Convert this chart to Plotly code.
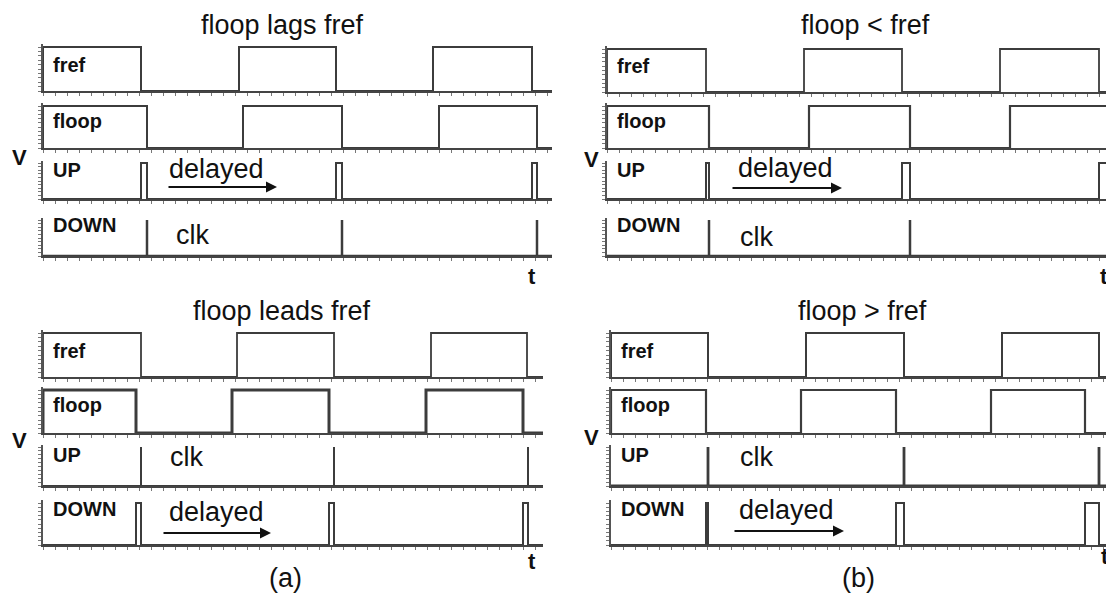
import plotly.graph_objects as go

# browser window and the default 8px page margin around the figure
WIN_W, WIN_H = 1114, 604
OFF = 8
W, H = WIN_W - OFF, WIN_H - 2 * OFF

# edge times of every digital trace (time units ~ px from the left edge of its panel)
# fref / floop start high, UP / DOWN start low
LAGS_SPAN = 509
LAGS_FREF = [98, 196, 293, 390, 489]
LAGS_FLOOP = [104, 200, 299, 396, 494]
LAGS_UP = [98, 104, 293, 299, 489, 494]
LAGS_DOWN = [104, 104, 299, 299, 494, 494]

SLOW_SPAN = 506
SLOW_FREF = [99, 197, 295, 393, 492]
SLOW_FLOOP = [102, 202, 303, 403, 503]
SLOW_UP = [99, 102, 295, 303, 492, 503]
SLOW_DOWN = [102, 102, 303, 303, 503, 503]

LEADS_SPAN = 500
LEADS_FREF = [98, 194, 291, 388, 484]
LEADS_FLOOP = [93, 189, 286, 383, 480]
LEADS_UP = [98, 98, 291, 291, 485, 485]
LEADS_DOWN = [93, 98, 286, 291, 480, 485]

FAST_SPAN = 503
FAST_FREF = [97, 195, 293, 391, 488]
FAST_FLOOP = [95, 190, 285, 380, 474]
FAST_UP = [97, 97, 293, 293, 488, 488]
FAST_DOWN = [95, 97, 285, 293, 474, 488]

SIGNAL_NAMES = ["fref", "floop", "UP", "DOWN"]
START_LEVEL = [1, 1, 0, 0]

TITLES = ["floop lags fref", "floop < fref", "floop leads fref", "floop > fref"]

top_rows = [(47, 91), (106, 148), (163, 199), (220, 256)]
bot_rows = [(333, 377), (390, 433), (447, 486), (503, 545)]

panels = [
    dict(span=LAGS_SPAN, sig=[LAGS_FREF, LAGS_FLOOP, LAGS_UP, LAGS_DOWN],
         x0=43, rows=top_rows, widths=[2, 2, 2, 2.5]),
    dict(span=SLOW_SPAN, sig=[SLOW_FREF, SLOW_FLOOP, SLOW_UP, SLOW_DOWN],
         x0=607, rows=[(49, 92)] + top_rows[1:], widths=[1.8, 2.2, 2, 2.5]),
    dict(span=LEADS_SPAN, sig=[LEADS_FREF, LEADS_FLOOP, LEADS_UP, LEADS_DOWN],
         x0=43, rows=bot_rows, widths=[1.8, 3, 2, 2]),
    dict(span=FAST_SPAN, sig=[FAST_FREF, FAST_FLOOP, FAST_UP, FAST_DOWN],
         x0=611, rows=bot_rows, widths=[2, 2.2, 2.8, 2]),
]


def steps(edges, span, start):
    xs, ys = [], []
    if start == 1:
        xs.append(0); ys.append(0)
    xs.append(0); ys.append(start)
    lvl = start
    for e in edges:
        lvl = 1 - lvl
        xs.append(e); ys.append(lvl)
    xs.append(span); ys.append(lvl)
    return xs, ys


def px(x):
    return (x - OFF) / W


def py(y):
    return 1 - (y - OFF) / H


fig = go.Figure()
layout = {}
annotations = []
TOP = 1.06
k = 0
for p in panels:
    for j, (hi, lo) in enumerate(p["rows"]):
        k += 1
        sfx = "" if k == 1 else str(k)
        xs, ys = steps(p["sig"][j], p["span"], START_LEVEL[j])
        fig.add_trace(go.Scatter(x=xs, y=ys, mode="lines", line_shape="hv",
                                 line=dict(color="#3c3c3c", width=p["widths"][j]),
                                 xaxis="x" + sfx, yaxis="y" + sfx,
                                 showlegend=False, hoverinfo="skip"))
        top_px = hi - (TOP - 1) * (lo - hi)
        layout["xaxis" + sfx] = dict(domain=[px(p["x0"]), min(1, px(p["x0"] + p["span"]))],
                                     range=[0, p["span"]], anchor="y" + sfx,
                                     showline=True, linecolor="#444", linewidth=1.5,
                                     ticks="outside", ticklen=3, tickcolor="#777", dtick=12,
                                     showticklabels=False, showgrid=False, zeroline=False)
        layout["yaxis" + sfx] = dict(domain=[py(lo), py(top_px)], range=[0, TOP],
                                     anchor="x" + sfx,
                                     showline=True, linecolor="#555", linewidth=1.5,
                                     ticks="outside", ticklen=3, tickcolor="#777", dtick=0.1,
                                     showticklabels=False, showgrid=False, zeroline=False)
        lab_v = [0.6, 0.65, 0.8, 0.86][j]
        annotations.append(dict(text="<b>%s</b>" % SIGNAL_NAMES[j], xref="paper", yref="paper",
                                x=px(p["x0"] + 8), y=py(lo - lab_v * (lo - hi)),
                                xanchor="left", yanchor="middle", showarrow=False,
                                font=dict(size=20, color="#111")))

title_font = dict(family="Liberation Sans, Arial", size=27, color="#111")
big = dict(family="Liberation Sans, Arial", size=27, color="#111")
bold = dict(family="Liberation Sans, Arial", size=22, color="#111")


def text(s, x, y, font, xanchor="center"):
    annotations.append(dict(text=s, xref="paper", yref="paper", x=px(x), y=py(y),
                            xanchor=xanchor, yanchor="middle", showarrow=False, font=font))


def arrow(x_tail, x_head, y):
    annotations.append(dict(text="", xref="paper", yref="paper", x=px(x_head), y=py(y),
                            ax=x_tail - x_head, ay=0, showarrow=True, arrowhead=2,
                            arrowsize=1.1, arrowwidth=2, arrowcolor="#111"))


text(TITLES[0], 282, 25, title_font)
text(TITLES[1], 865, 25, title_font)
text(TITLES[2], 282, 311, title_font)
text(TITLES[3], 862, 311, title_font)

text("<b>V</b>", 19, 157, bold)
text("<b>V</b>", 591, 159, bold)
text("<b>V</b>", 19, 440, bold)
text("<b>V</b>", 591, 437, bold)
text("<b>t</b>", 532, 276, bold)
text("<b>t</b>", 1104, 276, bold)
text("<b>t</b>", 532, 561, bold)
text("<b>t</b>", 1105, 556, bold)

text("delayed", 167, 169, big, "left")
arrow(167, 277, 187)
text("clk", 174, 235, big, "left")
text("delayed", 736, 168, big, "left")
arrow(731, 842, 188)
text("clk", 738, 237, big, "left")
text("clk", 168, 457, big, "left")
text("delayed", 167, 512, big, "left")
arrow(162, 271, 533)
text("clk", 738, 457, big, "left")
text("delayed", 737, 510, big, "left")
arrow(733, 844, 531)

text("(a)", 285, 578, big)
text("(b)", 858, 578, big)

fig.update_layout(width=W, height=H, margin=dict(l=0, r=0, t=0, b=0),
                  paper_bgcolor="white", plot_bgcolor="white",
                  font=dict(family="Liberation Sans, Arial"),
                  annotations=annotations, **layout)

fig.write_html("out.html")
